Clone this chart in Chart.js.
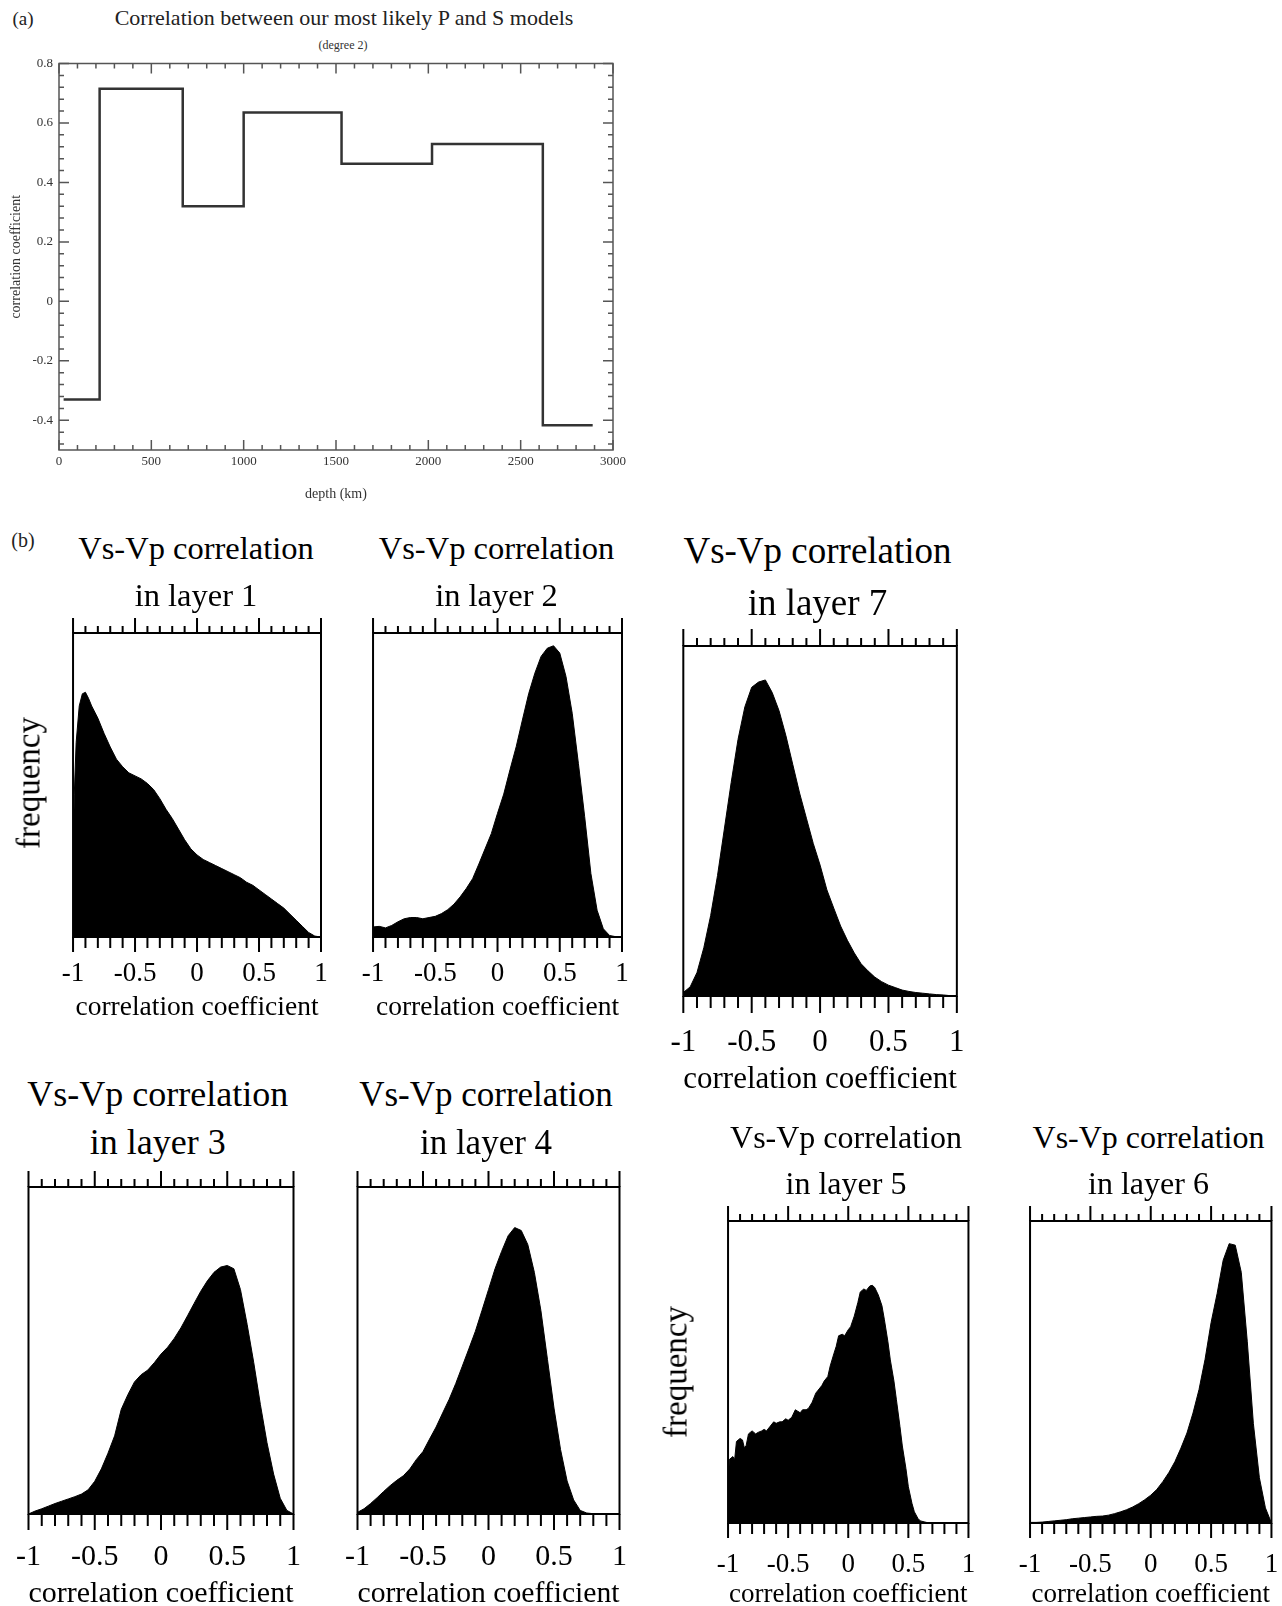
<!DOCTYPE html>
<html><head><meta charset="utf-8">
<script src="https://cdn.jsdelivr.net/npm/chart.js@4.4.0/dist/chart.umd.min.js"></script>
<style>
html,body{margin:0;padding:0;background:#fff;}
body{width:1282px;height:1606px;position:relative;overflow:hidden;font-family:"Liberation Serif","Times New Roman",serif;color:#000;}
.t{position:absolute;white-space:nowrap;transform:translate(-50%,-50%);line-height:1;}
.r{position:absolute;white-space:nowrap;transform:translate(-50%,-50%) rotate(-90deg);line-height:1;}
canvas{position:absolute;}
</style></head><body>
<div class="t" style="left:23px;top:18px;font-size:19px;color:#222">(a)</div>
<div class="t" style="left:344px;top:18px;font-size:22px;color:#222">Correlation between our most likely P and S models</div>
<div class="t" style="left:343px;top:45px;font-size:12px;color:#333">(degree 2)</div>
<div class="t" style="left:23px;top:540px;font-size:20px;color:#222">(b)</div>
<canvas id="cA" width="650" height="510" style="left:0;top:0"></canvas>
<script>
// ---------- DATA ----------
// (a) step profile: start depth of each layer (km) and its correlation coefficient
const depthStarts = [25, 220, 670, 1000, 1530, 2020, 2620, 2890];
const corrValues  = [-0.33, 0.715, 0.32, 0.635, 0.463, 0.529, -0.417, -0.417];

// (b) histograms: correlation coefficient (x) and relative frequency in % of panel height (y)
const layer1X = [-1, -0.995, -0.99, -0.975, -0.95, -0.925, -0.9, -0.875, -0.85, -0.8, -0.75, -0.7, -0.65, -0.6, -0.55, -0.5, -0.45, -0.4, -0.35, -0.3, -0.25, -0.2, -0.15, -0.1, -0.05, 0, 0.05, 0.1, 0.15, 0.2, 0.25, 0.3, 0.35, 0.4, 0.45, 0.5, 0.55, 0.6, 0.65, 0.7, 0.75, 0.8, 0.85, 0.9, 0.95, 1];
const layer1Y = [25, 35, 47, 64, 76, 80, 80.5, 78.5, 76, 72, 67, 62.5, 58.5, 56, 54, 53, 52, 50.5, 48.5, 45.5, 42, 39, 35.5, 32, 29, 27, 25.5, 24.5, 23.5, 22.5, 21.5, 20.5, 19.5, 18, 17, 15.5, 14, 12.5, 11, 9.5, 7.5, 5.5, 3.5, 1.5, 0.3, 0];

const gridX = [-1, -0.95, -0.9, -0.85, -0.8, -0.75, -0.7, -0.65, -0.6, -0.55, -0.5, -0.45, -0.4, -0.35, -0.3, -0.25, -0.2, -0.15, -0.1, -0.05, 0, 0.05, 0.1, 0.15, 0.2, 0.25, 0.3, 0.35, 0.4, 0.45, 0.5, 0.55, 0.6, 0.65, 0.7, 0.75, 0.8, 0.85, 0.9, 0.95, 1];
const layer2Y = [3.3, 3.5, 3, 3.8, 5, 6, 6.4, 6.4, 6, 6.4, 6.8, 7.7, 9, 10.8, 13.2, 16, 19.2, 24, 29, 34, 40.7, 47, 55, 62.6, 71.4, 80, 86.8, 92.3, 95, 95.8, 93.4, 85.7, 73.6, 57, 39.6, 20.9, 8.8, 2.7, 0.5, 0.1, 0];
const layer7Y = [1, 2.6, 6.7, 13.8, 23, 34.4, 47.7, 61, 73.3, 82.6, 88.2, 89.7, 90.3, 86.7, 81.5, 74.4, 66.2, 58, 50.8, 43.6, 37.4, 30.3, 25.1, 20, 15.9, 12.3, 9.2, 7.2, 5.4, 4.1, 3.1, 2.4, 1.7, 1.3, 1, 0.8, 0.6, 0.4, 0.3, 0.1, 0];
const layer3Y = [0, 0.9, 1.6, 2.4, 3.2, 3.9, 4.6, 5.3, 6.1, 7.4, 10, 13.8, 18.6, 23.9, 32, 36.5, 40.4, 42.6, 44, 46.3, 48.9, 51, 53.7, 56.9, 60.6, 64.4, 68.1, 71.3, 73.9, 75.5, 76, 75, 68.6, 58, 46.3, 33.5, 21.8, 12.2, 4.8, 1.1, 0];
const layer4Y = [0.5, 1.6, 3.2, 5, 6.9, 8.7, 10.3, 11.7, 13.8, 16.7, 19.1, 22.9, 26.6, 30.9, 35.1, 39.9, 45.2, 50.5, 55.9, 62.2, 68.6, 75, 80.3, 85.1, 87.6, 86.7, 82.4, 73.9, 62.2, 47.3, 32.4, 19.7, 10.1, 4.3, 1.1, 0.3, 0.1, 0, 0, 0, 0];
const layer6Y = [0.2, 0.2, 0.3, 0.5, 0.7, 0.9, 1.1, 1.4, 1.6, 1.8, 2, 2.2, 2.3, 2.6, 3.1, 3.7, 4.4, 5.3, 6.4, 7.7, 9.2, 11.1, 13.7, 16.7, 20.3, 24.8, 29.8, 36.4, 44.2, 54.2, 66.4, 76, 87, 92.5, 92, 83, 60, 33, 15, 5, 0];

const layer5X = [-1, -0.99, -0.96, -0.945, -0.93, -0.9, -0.88, -0.865, -0.85, -0.83, -0.8, -0.77, -0.75, -0.72, -0.7, -0.68, -0.65, -0.62, -0.6, -0.57, -0.55, -0.52, -0.5, -0.47, -0.44, -0.42, -0.4, -0.38, -0.35, -0.33, -0.3, -0.27, -0.25, -0.22, -0.2, -0.17, -0.15, -0.12, -0.1, -0.08, -0.05, -0.03, 0, 0.02, 0.05, 0.08, 0.1, 0.13, 0.15, 0.18, 0.2, 0.22, 0.25, 0.28, 0.3, 0.33, 0.35, 0.38, 0.4, 0.43, 0.45, 0.48, 0.5, 0.53, 0.55, 0.58, 0.6, 0.65, 0.7, 1];
const layer5Y = [10, 21, 22, 21, 27, 28, 27.5, 25, 25.5, 29.5, 30.5, 29.5, 30, 30.5, 31, 30.5, 32, 33.5, 33, 33.5, 33.5, 34.5, 34, 35, 37.5, 37, 36.5, 37.5, 37.5, 38, 40, 43, 44, 45.5, 47, 48.5, 52, 56, 58.5, 62, 62.5, 62, 64, 65, 68.5, 73, 76.5, 77.5, 77, 78.5, 78.7, 78, 75.5, 72, 67.5, 60, 54, 47, 41, 32, 25.5, 18, 12, 6.5, 3.7, 1.5, 0.7, 0.2, 0, 0];

const histTickValues = [-1, -0.5, 0, 0.5, 1];
const histTitle = 'Vs-Vp correlation';
const axisTitleHist = 'correlation coefficient';

// ---------- LAYOUT ----------
const SERIF = '"Liberation Serif","Times New Roman",serif';
const panels = [
  {name:'in layer 1', xs:layer1X, ys:layer1Y, box:[71,633,321,937], tf:27, af:27.5, lo:37, ao:71, hf:32.5, h1:548, h2:595, tmaj:15, tmin:7, bmaj:15, bmin:11, freq:[29,783]},
  {name:'in layer 2', xs:gridX, ys:layer2Y, box:[371,633,622,937], tf:27, af:27.5, lo:37, ao:71, hf:32.5, h1:548, h2:595, tmaj:15, tmin:7, bmaj:15, bmin:11},
  {name:'in layer 7', xs:gridX, ys:layer7Y, box:[672,646,963,996], tf:31, af:32, lo:47, ao:84, hf:37, h1:550, h2:602, tmaj:17, tmin:8, bmaj:17, bmin:12},
  {name:'in layer 3', xs:gridX, ys:layer3Y, box:[20.5,1187,295,1514], tf:30, af:30, lo:43, ao:80, hf:36, h1:1094, h2:1142, tmaj:16, tmin:8, bmaj:16, bmin:12},
  {name:'in layer 4', xs:gridX, ys:layer4Y, box:[350,1187,622,1514], tf:30, af:30, lo:43, ao:80, hf:35, h1:1094, h2:1142, tmaj:16, tmin:8, bmaj:16, bmin:12},
  {name:'in layer 5', xs:layer5X, ys:layer5Y, box:[721,1221,971,1523], tf:27, af:27, lo:42, ao:72, hf:32, h1:1137, h2:1183, tmaj:15, tmin:7, bmaj:15, bmin:11, freq:[676,1372]},
  {name:'in layer 6', xs:gridX, ys:layer6Y, box:[1023,1221,1274,1523], tf:27, af:27, lo:42, ao:72, hf:32, h1:1137, h2:1183, tmaj:15, tmin:7, bmaj:15, bmin:11}
];

function addText(txt, x, y, size, cls) {
  const d = document.createElement('div');
  d.className = cls || 't';
  d.style.left = x + 'px'; d.style.top = y + 'px'; d.style.fontSize = size + 'px';
  d.textContent = txt;
  document.body.appendChild(d);
}

// frame + inward ticks for panel (a)
const frameA = {
  id: 'frameA',
  afterDatasetsDraw(chart) {
    const {ctx, chartArea: a, scales: {x, y}} = chart;
    ctx.save();
    ctx.strokeStyle = '#555'; ctx.lineWidth = 1.5;
    ctx.strokeRect(a.left, a.top, a.right - a.left, a.bottom - a.top);
    ctx.beginPath();
    for (let v = 0; v <= 3000; v += 100) {
      const px = x.getPixelForValue(v), L = (v % 500 === 0) ? 10 : 5;
      ctx.moveTo(px, a.bottom); ctx.lineTo(px, a.bottom - L);
      ctx.moveTo(px, a.top); ctx.lineTo(px, a.top + L);
    }
    for (let i = 0; i <= 32; i++) {
      const v = 0.8 - i * 0.04; if (v < -0.501) break;
      const py = y.getPixelForValue(v), L = (i % 5 === 0) ? 10 : 5;
      ctx.moveTo(a.left, py); ctx.lineTo(a.left + L, py);
      ctx.moveTo(a.right, py); ctx.lineTo(a.right - L, py);
    }
    ctx.stroke();
    ctx.restore();
  }
};

// frame + outward ticks for histograms
const frameH = {
  id: 'frameH',
  afterDatasetsDraw(chart, args, o) {
    const {ctx, chartArea: a, scales: {x}} = chart;
    ctx.save();
    ctx.strokeStyle = '#000'; ctx.lineWidth = 2;
    ctx.strokeRect(a.left, a.top, a.right - a.left, a.bottom - a.top);
    ctx.beginPath();
    for (let i = -10; i <= 10; i++) {
      const px = x.getPixelForValue(i / 10), maj = (i % 5 === 0);
      ctx.moveTo(px, a.top); ctx.lineTo(px, a.top - (maj ? o.tmaj : o.tmin));
      ctx.moveTo(px, a.bottom); ctx.lineTo(px, a.bottom + (maj ? o.bmaj : o.bmin));
    }
    ctx.stroke();
    ctx.restore();
  }
};

function build() {
  // ---- panel (a)
  new Chart(document.getElementById('cA'), {
    type: 'line',
    data: { datasets: [{ data: depthStarts.map((d, i) => ({x: d, y: corrValues[i]})), stepped: true,
      borderColor: '#333', borderWidth: 2.5, pointRadius: 0, fill: false }] },
    options: {
      animation: false, responsive: false, events: [],
      layout: { padding: {top: 63.5, left: 0, right: 37, bottom: 0} },
      plugins: { legend: {display: false}, tooltip: {enabled: false} },
      scales: {
        x: { type: 'linear', min: 0, max: 3000,
          ticks: { stepSize: 500, padding: 4.2, maxRotation: 0, autoSkip: false, color: '#333',
            font: {family: SERIF, size: 13}, callback: v => String(v) },
          grid: {display: false, drawTicks: false}, border: {display: false},
          title: { display: true, text: 'depth (km)', color: '#333', font: {family: SERIF, size: 14}, padding: {top: 0, bottom: 7.6} },
          afterFit: s => { s.height = 60; } },
        y: { type: 'linear', min: -0.5, max: 0.8,
          ticks: { stepSize: 0.2, includeBounds: false, padding: 6, color: '#333',
            font: {family: SERIF, size: 13}, callback: v => String(Math.round(v * 10) / 10) },
          grid: {display: false, drawTicks: false}, border: {display: false},
          title: { display: true, text: 'correlation coefficient', color: '#333', font: {family: SERIF, size: 14}, padding: {top: 7.6, bottom: 0} },
          afterFit: s => { s.width = 59; } }
      }
    },
    plugins: [frameA]
  });

  // ---- histograms
  panels.forEach((p) => {
    const [l, t, r, b] = p.box;
    const padT = 25, padL = 30, padR = 30;
    const axisH = p.ao + 0.6 * p.af + 4;
    const c = document.createElement('canvas');
    const W = Math.round(r - l + padL + padR), H = Math.round(b - t + padT + axisH);
    c.width = W; c.height = H;
    c.style.left = (l - padL) + 'px'; c.style.top = (t - padT) + 'px';
    document.body.appendChild(c);
    const realAxisH = H - padT - (b - t);
    new Chart(c, {
      type: 'line',
      data: { datasets: [{ data: p.xs.map((xv, i) => ({x: xv, y: p.ys[i]})),
        borderColor: '#000', borderWidth: 1, backgroundColor: '#000', fill: 'origin', pointRadius: 0, tension: 0 }] },
      options: {
        animation: false, responsive: false, events: [],
        layout: { padding: {top: padT, left: padL, right: padR, bottom: 0} },
        plugins: { legend: {display: false}, tooltip: {enabled: false}, frameH: {tmaj: p.tmaj, tmin: p.tmin, bmaj: p.bmaj, bmin: p.bmin} },
        scales: {
          x: { type: 'linear', min: -1, max: 1,
            afterBuildTicks: s => { s.ticks = histTickValues.map(v => ({value: v})); },
            ticks: { padding: p.lo - 0.6 * p.tf, maxRotation: 0, autoSkip: false, color: '#000',
              font: {family: SERIF, size: p.tf}, callback: v => String(v) },
            grid: {display: false, drawTicks: false}, border: {display: false},
            title: { display: true, text: axisTitleHist, color: '#000', font: {family: SERIF, size: p.af},
              padding: {top: 0, bottom: realAxisH - p.ao - 0.6 * p.af} },
            afterFit: s => { s.height = realAxisH; } },
          y: { type: 'linear', min: 0, max: 100, display: false }
        }
      },
      plugins: [frameH]
    });
    const cx = (l + r) / 2;
    addText(histTitle, cx, p.h1, p.hf);
    addText(p.name, cx, p.h2, p.hf);
    if (p.freq) addText('frequency', p.freq[0], p.freq[1], 33, 'r');
  });
}
if (window.Chart) build(); else window.addEventListener('load', build);
</script>
</body></html>
